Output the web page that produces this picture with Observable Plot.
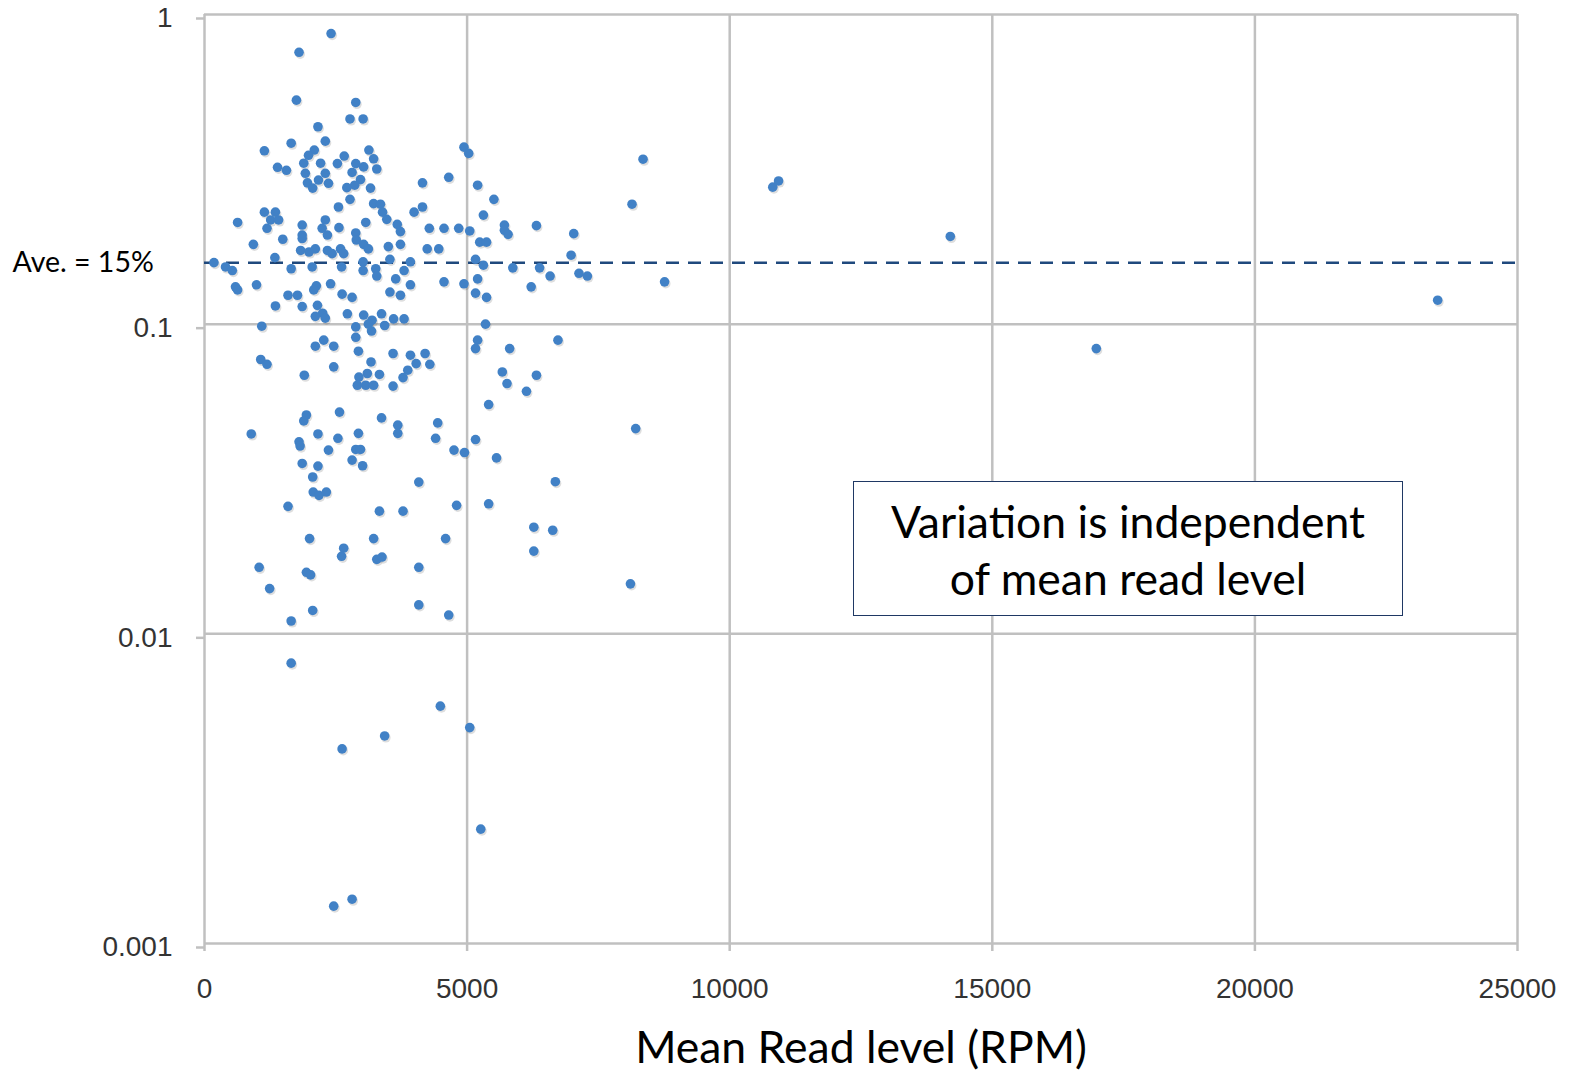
<!DOCTYPE html>
<html>
<head>
<meta charset="utf-8">
<script src="https://cdn.jsdelivr.net/npm/d3@7"></script>
<script src="https://cdn.jsdelivr.net/npm/@observablehq/plot@0.6"></script>
<style>
  html, body { margin: 0; padding: 0; background: #fff; }
  #wrap { position: relative; width: 1569px; height: 1072px; overflow: hidden; }
  #note {
    position: absolute; left: 853px; top: 481px; width: 548px; height: 133px;
    border: 1.5px solid #1f3864; background: #fff;
    display: flex; align-items: center; justify-content: center; text-align: center;
    font-family: Lato, "Open Sans", sans-serif; font-size: 44.5px; line-height: 57px; color: #000;
  }
</style>
</head>
<body>
<div id="wrap"></div>
<script>
// Mean read level (RPM) and variation for each small RNA
const meanRPM = [
  2410,1800,1750,2160,1650,2300,1140,2090,1980,1890,2210,1920,2300,1960,2170,2360,2060,2530,1390,1560,
  1140,1350,1260,1410,1190,630,1860,1860,2300,2240,2340,2550,2560,1490,930,1860,1830,1990,2110,2340,
  2430,2590,2650,1340,180,400,530,1650,2050,590,630,990,2130,2080,2400,1590,1770,1350,1860,2150,
  2250,2110,2300,1090,
  2880,2770,3020,3130,3220,3280,2660,2880,3030,2810,2970,2860,2710,3160,2770,4150,4650,4940,5030,3220,
  3350,3390,3470,3990,4150,3070,3670,3730,3730,4280,4560,4840,5050,2880,2890,3030,3120,3500,4240,4460,
  3530,3920,3800,3020,3020,3260,3280,2610,3640,3920,4560,4940,2620,2810,3530,3730,2720,3030,3190,3370,
  3430,3600,3800,3120,2880,
  2110,2270,2460,1070,1190,1900,2460,2570,1940,1890,890,2160,2540,1800,1820,2360,1860,2160,2060,2070,
  2180,2320,1590,2000,2650,2610,1040,1940,2020,1240,2060,1650,
  3180,2880,2930,3590,3920,4200,3170,4030,3870,4290,2940,3100,2910,3070,3220,3330,3780,3590,3370,3680,
  3680,4440,2930,2880,2970,2810,3010,4400,4750,4950,4080,4800,3330,3780,3220,4590,3280,3380,4080,4080,
  4650,
  1650,4490,5050,3430,2620,5260,2810,2460,
  8350,5200,5510,8140,5310,5710,5710,5780,6320,7030,5240,5370,6980,5160,5310,5870,6380,6580,7130,7290,
  8760,5200,6220,5160,5370,5350,5200,5160,5810,6730,5670,5760,6320,6130,5410,8210,5160,
  5560,6680,5410,6270,6630,6270,8110,
  10820,10930,14200,16980,23480
];
const variation = [
  0.868,0.755,0.529,0.434,0.384,0.390,0.363,0.365,0.351,0.331,0.331,0.307,0.307,0.286,0.292,0.285,0.275,0.330,0.321,0.314,
  0.230,0.230,0.217,0.217,0.204,0.213,0.209,0.194,0.217,0.204,0.194,0.239,0.205,0.188,0.181,0.189,0.173,0.171,0.175,0.173,
  0.169,0.175,0.169,0.164,0.158,0.153,0.149,0.151,0.153,0.132,0.129,0.134,0.133,0.129,0.135,0.124,0.124,0.1145,0.114,0.115,
  0.1085,0.106,0.1046,0.0985,
  0.520,0.460,0.460,0.365,0.342,0.317,0.349,0.330,0.322,0.309,0.293,0.281,0.276,0.275,0.253,0.286,0.298,0.373,0.356,0.245,
  0.244,0.230,0.218,0.230,0.239,0.213,0.210,0.199,0.181,0.204,0.204,0.204,0.200,0.197,0.187,0.181,0.175,0.178,0.175,0.175,
  0.162,0.159,0.149,0.159,0.149,0.151,0.143,0.153,0.140,0.134,0.137,0.135,0.125,0.122,0.127,0.124,0.108,0.107,0.103,0.108,
  0.099,0.104,0.104,0.100,0.098,
  0.0849,0.0888,0.0849,0.0769,0.0742,0.0684,0.0728,0.052,0.0509,0.0487,0.0442,0.0442,0.0428,0.0417,0.0404,0.0392,0.0355,0.0348,0.0321,0.0287,
  0.0280,0.0287,0.0258,0.0203,0.0189,0.0178,0.0164,0.0158,0.0155,0.0140,0.0119,0.0110,
  0.095,0.0907,0.0818,0.0804,0.0794,0.0804,0.0755,0.0746,0.0710,0.0742,0.0675,0.0693,0.0635,0.0635,0.0635,0.0688,0.0672,0.0631,0.0498,0.0472,
  0.0444,0.0480,0.0444,0.0394,0.0394,0.0364,0.0349,0.0428,0.0392,0.0385,0.0309,0.0260,0.0249,0.0249,0.0203,0.0203,0.0174,0.0177,0.0164,0.0124,
  0.0115,
  0.00804,0.00584,0.00498,0.00468,0.00425,0.00234,0.00139,0.00132,
  0.341,0.281,0.253,0.244,0.225,0.209,0.201,0.195,0.208,0.196,0.184,0.184,0.167,0.162,0.155,0.152,0.152,0.143,0.146,0.143,
  0.137,0.140,0.132,0.126,0.122,0.100,0.0888,0.0834,0.0834,0.0888,0.0701,0.0643,0.0684,0.0607,0.0550,0.0460,0.0424,
  0.0370,0.0310,0.0263,0.0221,0.0216,0.0185,0.0145,
  0.277,0.290,0.192,0.0834,0.1195
];
const xTicks = [0, 5000, 10000, 15000, 20000, 25000];
const xTickLabels = ["0", "5000", "10000", "15000", "20000", "25000"];
const yTicks = [0.001, 0.01, 0.1, 1];
const yTickLabels = ["0.001", "0.01", "0.1", "1"];
const averageValue = 0.158;
const averageLabel = "Ave. = 15%";
const xTitle = "Mean Read level (RPM)";
const noteLines = ["Variation is independent", "of mean read level"];

const points = meanRPM.map((x, i) => ({x, y: variation[i]}));

const grid = {stroke: "#c0c0c0", strokeOpacity: 1, strokeWidth: 2.5};

const chart = Plot.plot({
  width: 1569,
  height: 1072,
  marginLeft: 204,
  marginRight: 52,
  marginTop: 14,
  marginBottom: 129,
  style: {fontFamily: "'Liberation Sans', Arial, sans-serif", background: "#fff", overflow: "visible"},
  x: {domain: [0, 25000]},
  y: {type: "log", domain: [0.001, 1]},
  marks: [
    Plot.gridX(xTicks, grid),
    Plot.gridY(yTicks, grid),
    Plot.axisX(xTicks, {
      tickSize: 8, tickPadding: 27, stroke: "#c0c0c0", strokeWidth: 2.5, fill: "#333",
      fontSize: 28, label: null, tickFormat: d => xTickLabels[xTicks.indexOf(d)]
    }),
    Plot.axisY(yTicks, {
      tickSize: 8, tickPadding: 24, stroke: "#c0c0c0", strokeWidth: 2.5, fill: "#333",
      fontSize: 28, label: null, dy: 4, tickFormat: d => yTickLabels[yTicks.indexOf(d)]
    }),
    Plot.ruleY([averageValue], {stroke: "#1f497d", strokeWidth: 2.5, strokeDasharray: "13,9"}),
    Plot.dot(points, {x: "x", y: "y", r: 4.8, fill: "#000", fillOpacity: 0.13, dx: 1.2, dy: 1.8}),
    Plot.dot(points, {x: "x", y: "y", r: 4.8, fill: "#4181c6"}),
    Plot.text([{label: averageLabel, v: averageValue}], {
      y: "v", text: "label", frameAnchor: "left", dx: -192, textAnchor: "start",
      fontFamily: "Lato, 'Open Sans', sans-serif", fontSize: 28.5, fill: "#000"
    }),
    Plot.text([xTitle], {
      text: d => d, frameAnchor: "bottom", dy: 105, lineAnchor: "middle",
      fontFamily: "Lato, 'Open Sans', sans-serif", fontSize: 44.5, fill: "#000"
    })
  ]
});

const wrap = document.getElementById("wrap");
wrap.appendChild(chart);
const note = document.createElement("div");
note.id = "note";
note.innerHTML = noteLines.join("<br>");
wrap.appendChild(note);
</script>
</body>
</html>
